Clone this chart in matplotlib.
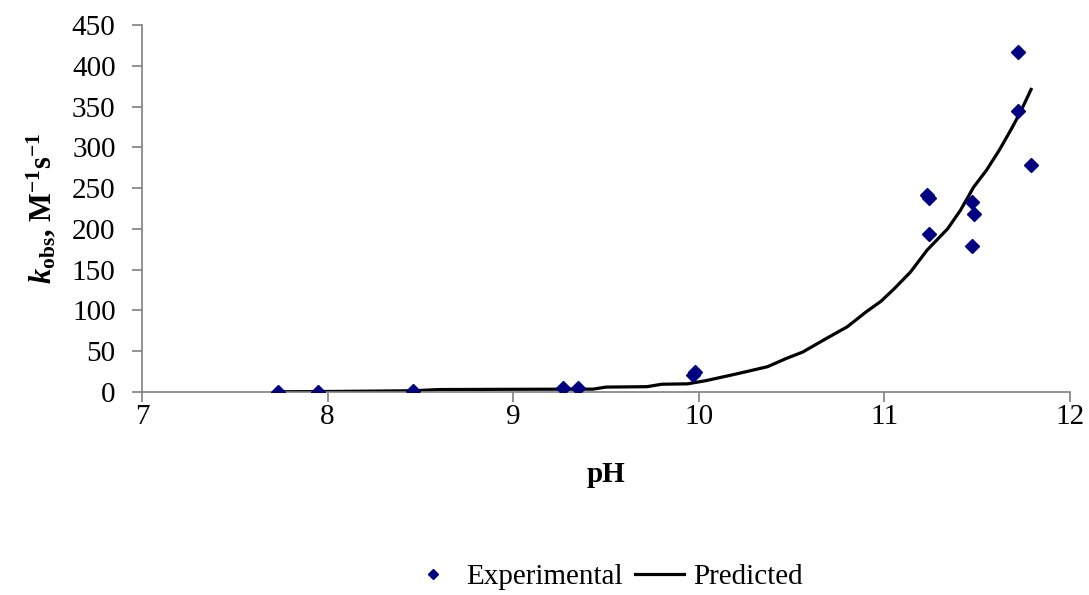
import matplotlib.pyplot as plt
import numpy as np

# Experimental rate constants
ph_exp = [7.73, 7.95, 8.46, 9.27, 9.35, 9.97, 9.98, 11.23, 11.24, 11.24,
          11.47, 11.48, 11.47, 11.72, 11.72, 11.79]
k_exp = [0.5, 0.5, 1.0, 5.0, 5.0, 21, 24, 241, 238, 194,
         233, 218, 179, 417, 345, 278]

# Model prediction
ph_pred = [7.73, 7.95, 8.2, 8.46, 8.6, 9.0, 9.43, 9.5, 9.72, 9.8, 9.94,
           10.04, 10.2, 10.37, 10.47, 10.56, 10.69, 10.8, 10.9, 10.98,
           11.05, 11.14, 11.23, 11.34, 11.41, 11.48, 11.55, 11.62, 11.68,
           11.73, 11.79]
k_pred = [0.3, 0.5, 1.0, 1.5, 3.0, 3.3, 3.5, 6.0, 6.5, 9.5, 10,
          14, 22, 31, 41, 49, 66, 80, 98, 111,
          126, 147, 174, 200, 223, 251, 272, 297, 321,
          342, 371]

plt.rcParams['font.family'] = ['Liberation Serif', 'DejaVu Serif']
plt.rcParams['mathtext.fontset'] = 'custom'
plt.rcParams['mathtext.rm'] = 'Liberation Serif'
plt.rcParams['mathtext.it'] = 'Liberation Serif:italic:bold'
plt.rcParams['mathtext.bf'] = 'Liberation Serif:bold'

fig = plt.figure(figsize=(10.89, 5.95), dpi=100)
ax = fig.add_axes([0.1304, 0.3412, 0.8522, 0.6168])

ax.plot(ph_exp, k_exp, linestyle='none', marker='D', markersize=7.5,
        color='#000080', label='Experimental', zorder=3)
ax.plot(ph_pred, k_pred, color='black', linewidth=2.3, label='Predicted', zorder=2)

ax.set_xlim(7, 12)
ax.set_ylim(0, 450)
ax.set_xticks(np.arange(7, 13, 1))
ax.set_yticks(np.arange(0, 451, 50))

for side in ['top', 'right']:
    ax.spines[side].set_visible(False)
for side in ['left', 'bottom']:
    ax.spines[side].set_color('#808080')
    ax.spines[side].set_linewidth(1.2)
ax.tick_params(axis='both', direction='out', length=7, width=1.2,
               color='#808080', labelsize=21)
ax.tick_params(axis='y', pad=12)
ax.tick_params(axis='x', pad=2)

ax.set_xlabel('pH', fontsize=21, fontweight='bold', labelpad=22)
ax.set_ylabel(r'$k$$_{\mathbf{obs}}$, M$^{\mathbf{-1}}$s$^{\mathbf{-1}}$',
              fontsize=22, fontweight='bold', labelpad=10)

fig.legend(*ax.get_legend_handles_labels(), loc='center',
           bbox_to_anchor=(0.556, 0.03), ncol=2, frameon=False, fontsize=21,
           handlelength=1.7, handletextpad=0.3, columnspacing=0.4,
           markerscale=0.7)

fig.savefig('out.png', dpi=100)
